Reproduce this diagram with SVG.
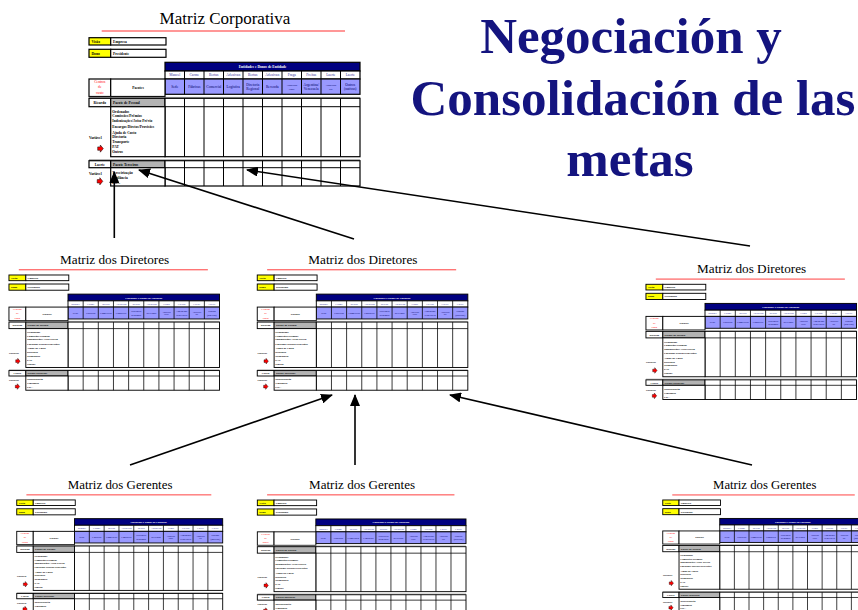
<svg xmlns="http://www.w3.org/2000/svg" xmlns:xlink="http://www.w3.org/1999/xlink" width="858" height="610" viewBox="0 0 858 610">
<style>
.f{font-family:"Liberation Serif","Times New Roman",serif}
.b{font-weight:bold}
.ttl{font-family:"Liberation Serif","Times New Roman",serif;font-size:17px;fill:#000;text-anchor:middle}
.sm{font-size:3.6px}
.xs{font-size:2.7px}
.c{text-anchor:middle}
.bx{stroke:#000;stroke-width:1.2}
.ln{stroke:#000;stroke-width:1;fill:none}
.nm{fill:#333399}
.bl{fill:#000066}
.big{font-family:"Liberation Serif","Times New Roman",serif;font-weight:bold;font-size:51px;fill:#14147f;text-anchor:middle}
.con{stroke:#000;stroke-width:1.6;fill:none;marker-end:url(#ah)}
</style>
<defs>
<marker id="ah" markerUnits="userSpaceOnUse" markerWidth="12" markerHeight="10" refX="11" refY="5" orient="auto">
<path d="M0,0 L12,5 L0,10 z" fill="#000"/>
</marker>
<polygon id="rarr" points="-2.8,-1.7 -0.2,-1.7 -0.2,-3.6 2.8,0 -0.2,3.6 -0.2,1.7 -2.8,1.7" fill="#ff0000" stroke="#000" stroke-width="0.5"/>
<g id="tpl" class="f">
<line x1="101.7" y1="31" x2="345" y2="31" stroke="#ff3030" stroke-width="1.2"/>
<rect x="89" y="37.7" width="21.7" height="7.3" fill="#ffff00" class="bx"/>
<rect x="110.7" y="37.7" width="55.3" height="7.3" fill="#fff" class="bx"/>
<text x="91.5" y="42.6" class="b sm">Visão</text>
<text x="113" y="42.6" class="b sm">Empresa</text>
<rect x="89" y="49.3" width="21.7" height="8" fill="#ffff00" class="bx"/>
<rect x="110.7" y="49.3" width="55.3" height="8" fill="#fff" class="bx"/>
<text x="91.5" y="54.6" class="b sm">Dono</text>
<text x="113" y="54.6" class="b sm">Presidente</text>
<rect x="165" y="62.3" width="195" height="8.7" fill="#000080" class="bx"/>
<text x="262.5" y="68" class="b sm c" fill="#fff">Entidades e Donos de Entidade</text>
<rect x="165" y="71" width="195" height="8" fill="#fff" class="bx"/>
<rect x="165" y="79" width="195" height="15.3" fill="#9999ff" class="bx"/>
<path class="ln" d="M184.5,71V94.3M204,71V94.3M223.5,71V94.3M243,71V94.3M262.5,71V94.3M282,71V94.3M301.5,71V94.3M321,71V94.3M340.5,71V94.3"/>
<g class="sm c nm">
<text x="174.75" y="76.4">Manoel</text>
<text x="194.25" y="76.4">Carme</text>
<text x="213.75" y="76.4">Bertus</text>
<text x="233.25" y="76.4">Adenivan</text>
<text x="252.75" y="76.4">Bertus</text>
<text x="272.25" y="76.4">Adenivan</text>
<text x="291.75" y="76.4">Fraga</text>
<text x="311.25" y="76.4">Freitas</text>
<text x="330.75" y="76.4">Laerte</text>
<text x="350.25" y="76.4">Laerte</text>
</g>
<g class="sm c bl">
<text x="174.75" y="88">Sede</text>
<text x="194.25" y="88">Fábricas</text>
<text x="213.75" y="88">Comercial</text>
<text x="233.25" y="88">Logística</text>
<text x="252.75" y="85.6">Diretoria</text>
<text x="252.75" y="90.2">Regional</text>
<text x="272.25" y="88">Revenda</text>
<text x="291.75" y="86" class="xs">Associada</text>
<text x="291.75" y="89.6" class="xs">Norte</text>
<text x="311.25" y="85.6">Argentina/</text>
<text x="311.25" y="90.2">Venezuela</text>
<text x="330.75" y="86" class="xs">Associada</text>
<text x="330.75" y="89.6" class="xs">Sul</text>
<text x="350.25" y="85.6">Outros</text>
<text x="350.25" y="90.2">(nativas)</text>
</g>
<rect x="89" y="79" width="21.7" height="17.5" fill="#fff" class="bx"/>
<rect x="110.7" y="79" width="54.3" height="17.5" fill="#fff" class="bx"/>
<g class="sm c" fill="#ff0000">
<text x="99.8" y="83">Centros</text>
<text x="99.8" y="88.4">de</text>
<text x="99.8" y="94">custo</text>
</g>
<text x="138" y="89" class="b sm c" font-size="4.2">Pacotes</text>
<line x1="89" y1="97.4" x2="360" y2="97.4" stroke="#999" stroke-width="1"/>
<rect x="89" y="98.3" width="21.7" height="8.4" fill="#fff" class="bx"/>
<rect x="110.7" y="98.3" width="54.3" height="8.4" fill="#b3b3b3" class="bx"/>
<rect x="165" y="98.3" width="195" height="58.4" fill="#fff" class="bx"/>
<rect x="110.7" y="106.7" width="54.3" height="50" fill="#fff" class="bx"/>
<path class="ln" d="M165,106.7H360M184.5,98.3V156.7M204,98.3V156.7M223.5,98.3V156.7M243,98.3V156.7M262.5,98.3V156.7M282,98.3V156.7M301.5,98.3V156.7M321,98.3V156.7M340.5,98.3V156.7"/>
<text x="99.8" y="103.8" class="b sm c">Ricardo</text>
<text x="113" y="103.8" class="b sm" font-size="4">Pacote de Pessoal</text>
<g class="b sm">
<text x="112.3" y="112.8">Ordenados</text>
<text x="112.3" y="117.4">Comissões/Prêmios</text>
<text x="112.3" y="122">Indenizações/Aviso Prévio</text>
<text x="112.3" y="127.6">Encargos Diretos/Provisões</text>
<text x="112.3" y="133.6">Ajuda de Custo</text>
<text x="112.3" y="138.4">Diretoria</text>
<text x="112.3" y="142.8">Transporte</text>
<text x="112.3" y="148.4">PAT</text>
<text x="112.3" y="153.4">Outros</text>
</g>
<text x="95.3" y="139" class="b sm c">Variável</text>
<use xlink:href="#rarr" href="#rarr" x="100.5" y="148.6"/>
<line x1="89" y1="159.8" x2="360" y2="159.8" stroke="#999" stroke-width="1"/>
<rect x="89" y="160.7" width="21.7" height="7" fill="#fff" class="bx"/>
<rect x="110.7" y="160.7" width="54.3" height="7" fill="#b3b3b3" class="bx"/>
<rect x="165" y="160.7" width="195" height="25.3" fill="#fff" class="bx"/>
<rect x="110.7" y="167.7" width="54.3" height="18.3" fill="#fff" class="bx"/>
<path class="ln" d="M165,167.7H360M184.5,160.7V186M204,160.7V186M223.5,160.7V186M243,160.7V186M262.5,160.7V186M282,160.7V186M301.5,160.7V186M321,160.7V186M340.5,160.7V186"/>
<text x="99.8" y="165.6" class="b sm c">Laerte</text>
<text x="113" y="165.6" class="b sm" font-size="4">Pacote Terceiros</text>
<g class="b sm">
<text x="112.3" y="173.5">Terceirização</text>
<text x="112.3" y="178.6">Vigilância</text>
<text x="112.3" y="183.6">Etc...</text>
</g>
<text x="95.3" y="174.5" class="b sm c">Variável</text>
<use xlink:href="#rarr" href="#rarr" x="100" y="181.3"/>
</g>
</defs>
<rect width="858" height="610" fill="#fff"/>
<g id="corporativa">
<text x="225" y="23.5" class="ttl">Matriz Corporativa</text>
<use xlink:href="#tpl" href="#tpl"/>
</g>
<g id="diretores-1" transform="translate(-60.2,245.7) scale(0.777)">
<text x="225" y="23.5" class="ttl">Matriz dos Diretores</text>
<use xlink:href="#tpl" href="#tpl"/>
</g>
<g id="diretores-2" transform="translate(188.1,245.7) scale(0.777)">
<text x="225" y="23.5" class="ttl">Matriz dos Diretores</text>
<use xlink:href="#tpl" href="#tpl"/>
</g>
<g id="diretores-3" transform="translate(576.8,255) scale(0.777)">
<text x="225" y="23.5" class="ttl">Matriz dos Diretores</text>
<use xlink:href="#tpl" href="#tpl"/>
</g>
<g id="gerentes-1" transform="translate(-50.9,471.3) scale(0.76)">
<text x="225" y="23.5" class="ttl">Matriz dos Gerentes</text>
<use xlink:href="#tpl" href="#tpl"/>
</g>
<g id="gerentes-2" transform="translate(188.8,471) scale(0.77)">
<text x="225" y="23.5" class="ttl">Matriz dos Gerentes</text>
<use xlink:href="#tpl" href="#tpl"/>
</g>
<g id="gerentes-3" transform="translate(596,471.7) scale(0.75)">
<text x="225" y="23.5" class="ttl">Matriz dos Gerentes</text>
<use xlink:href="#tpl" href="#tpl"/>
</g>
<g id="heading">
<text x="631" y="53" class="big">Negociación y</text>
<text x="633" y="115" class="big">Consolidación de las</text>
<text x="630" y="176" class="big">metas</text>
</g>
<g id="connectors">
<line class="con" x1="114.3" y1="238" x2="114.3" y2="172"/>
<line class="con" x1="354" y1="239" x2="139" y2="170"/>
<line class="con" x1="750" y1="246" x2="247" y2="170"/>
<line class="con" x1="130" y1="465" x2="332" y2="395"/>
<line class="con" x1="355" y1="465" x2="355" y2="395"/>
<line class="con" x1="752" y1="465" x2="450" y2="395"/>
</g>
</svg>
